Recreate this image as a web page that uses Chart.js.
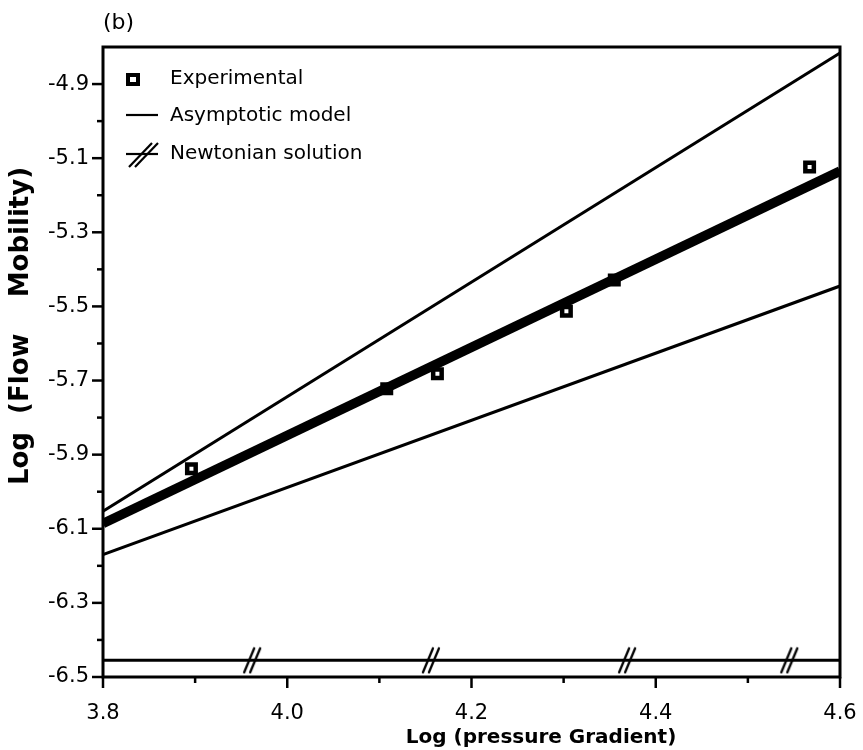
<!DOCTYPE html>
<html><head><meta charset="utf-8">
<script src="https://cdn.jsdelivr.net/npm/chart.js@4/dist/chart.umd.min.js"></script>
<style>html,body{margin:0;padding:0;background:#fff}</style>
</head><body>
<canvas id="c" width="863" height="750"></canvas>
<script>
// ---- data ----
const xTickLabels = [3.8, 4.0, 4.2, 4.4, 4.6];
const yTickLabels = [-6.5, -6.3, -6.1, -5.9, -5.7, -5.5, -5.3, -5.1, -4.9];
const lineX = [3.8, 4.6];
const expX = [3.896, 4.108, 4.163, 4.303, 4.355, 4.567];
const expY = [-5.938, -5.722, -5.682, -5.513, -5.429, -5.124];
const modelY = [-6.086, -5.135];     // thick asymptotic model line
const upperY = [-6.053, -4.816];     // upper thin line
const lowerY = [-6.170, -5.445];     // lower thin line
const newtonY = [-6.455, -6.455];    // Newtonian solution
const newtonMarkX = [3.963, 4.157, 4.370, 4.546];
const newtonMarkY = [-6.455, -6.455, -6.455, -6.455];
const xTitle = 'Log (pressure Gradient)';
const yTitle = 'Log  (Flow    Mobility)';
const panelLabel = '(b)';

const pts = (xs, ys) => xs.map((x, i) => ({x, y: ys[i]}));

function hashMark() {
  const c = document.createElement('canvas');
  c.width = 26; c.height = 28;
  const g = c.getContext('2d');
  g.strokeStyle = '#000'; g.lineWidth = 2.3; g.lineCap = 'round';
  g.beginPath(); g.moveTo(4, 26); g.lineTo(14, 2); g.stroke();
  g.beginPath(); g.moveTo(10, 26); g.lineTo(20, 2); g.stroke();
  return c;
}
const hashImg = hashMark();

const frameTicks = {
  id: 'frameTicks',
  afterDatasetsDraw(chart) {
    const {ctx, chartArea: a, scales: {x, y}} = chart;
    ctx.save();
    ctx.strokeStyle = '#000';
    ctx.lineWidth = 3;
    ctx.strokeRect(a.left, a.top, a.right - a.left, a.bottom - a.top);
    ctx.lineWidth = 2.5;
    const seg = (x1, y1, x2, y2) => { ctx.beginPath(); ctx.moveTo(x1, y1); ctx.lineTo(x2, y2); ctx.stroke(); };
    xTickLabels.forEach((v, i) => {
      const p = x.getPixelForValue(v);
      seg(p, a.bottom, p, a.bottom + 11);
      if (i < xTickLabels.length - 1) {
        const m = x.getPixelForValue((v + xTickLabels[i + 1]) / 2);
        seg(m, a.bottom, m, a.bottom + 6);
      }
    });
    yTickLabels.forEach((v, i) => {
      const p = y.getPixelForValue(v);
      seg(a.left, p, a.left - 11, p);
      if (i < yTickLabels.length - 1) {
        const m = y.getPixelForValue((v + yTickLabels[i + 1]) / 2);
        seg(a.left, m, a.left - 6, m);
      }
    });
    // legend
    const ds = chart.data.datasets;
    ctx.font = '20px "DejaVu Sans"';
    ctx.fillStyle = '#000';
    ctx.textBaseline = 'middle';
    ctx.textAlign = 'left';
    const lx = a.left + 25, tx = a.left + 67;
    ctx.lineWidth = 4;
    ctx.fillStyle = '#fff';
    ctx.fillRect(lx, 75, 10, 9);
    ctx.strokeRect(lx, 75, 10, 9);
    ctx.fillStyle = '#000';
    ctx.fillText(ds[0].label, tx, 79);
    ctx.lineWidth = 2.2;
    seg(lx - 2, 115, lx + 30, 115);
    ctx.fillText(ds[1].label, tx, 116);
    seg(lx - 2, 154, lx + 30, 154);
    seg(lx + 1, 167, lx + 24, 143);
    seg(lx + 7, 167, lx + 30, 143);
    ctx.fillText(ds[4].label, tx, 154);
    // panel label
    ctx.font = '22px "DejaVu Sans"';
    ctx.fillText(panelLabel, a.left, 23);
    // axis titles
    ctx.font = 'bold 20px "DejaVu Sans"';
    ctx.textAlign = 'center';
    ctx.fillText(xTitle, 541, 738);
    ctx.translate(21, 326);
    ctx.rotate(-Math.PI / 2);
    ctx.font = 'bold 26px "DejaVu Sans"';
    ctx.fillText(yTitle, 0, 0);
    ctx.restore();
  }
};

new Chart(document.getElementById('c'), {
  type: 'scatter',
  data: {
    datasets: [
      { label: 'Experimental', data: pts(expX, expY), showLine: false,
        pointStyle: 'rect', pointRadius: 6, borderWidth: 4.5,
        borderColor: '#000', backgroundColor: '#fff', order: 1 },
      { label: 'Asymptotic model', data: pts(lineX, modelY), showLine: true,
        borderColor: '#000', borderWidth: 9.5, pointRadius: 0, order: 0 },
      { label: 'Asymptotic model (upper)', data: pts(lineX, upperY), showLine: true,
        borderColor: '#000', borderWidth: 3, pointRadius: 0, order: 2 },
      { label: 'Asymptotic model (lower)', data: pts(lineX, lowerY), showLine: true,
        borderColor: '#000', borderWidth: 3, pointRadius: 0, order: 2 },
      { label: 'Newtonian solution', data: pts(lineX, newtonY), showLine: true,
        borderColor: '#000', borderWidth: 3, pointRadius: 0, order: 2 },
      { label: 'Newtonian marks', data: pts(newtonMarkX, newtonMarkY), showLine: false,
        pointStyle: hashImg, pointRadius: 10, order: 2 }
    ]
  },
  options: {
    responsive: false,
    animation: false,
    layout: { padding: { left: 8, right: 23, top: 47, bottom: 0 } },
    plugins: { legend: { display: false }, tooltip: { enabled: false } },
    scales: {
      x: {
        type: 'linear', min: 3.8, max: 4.6,
        afterBuildTicks: s => { s.ticks = xTickLabels.map(v => ({value: v})); },
        afterFit: s => { s.height = 73; s.paddingLeft = 0; s.paddingRight = 0; },
        grid: { display: false, drawTicks: false },
        border: { display: false },
        ticks: { padding: 24, color: '#000', maxRotation: 0, autoSkip: false,
                 font: { family: 'DejaVu Sans', size: 21 }, callback: v => v.toFixed(1) }
      },
      y: {
        type: 'linear', min: -6.5, max: -4.8,
        afterBuildTicks: s => { s.ticks = yTickLabels.map(v => ({value: v})); },
        afterFit: s => { s.width = 95; s.paddingTop = 0; s.paddingBottom = 0; },
        grid: { display: false, drawTicks: false },
        border: { display: false },
        ticks: { padding: 14, color: '#000', autoSkip: false,
                 font: { family: 'DejaVu Sans', size: 21 }, callback: v => v.toFixed(1) }
      }
    }
  },
  plugins: [frameTicks]
});
</script>
</body></html>
